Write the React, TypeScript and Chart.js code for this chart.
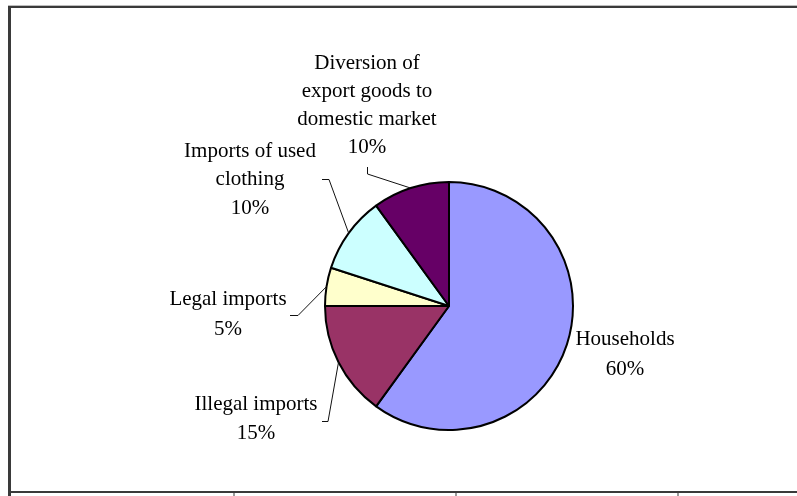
import React, { useEffect, useRef } from "react";
import { Chart, registerables } from "chart.js";

Chart.register(...registerables);

const categories = [
  "Households",
  "Illegal imports",
  "Legal imports",
  "Imports of used clothing",
  "Diversion of export goods to domestic market",
];
const shares = [60, 15, 5, 10, 10];
const colors = ["#9999FF", "#993366", "#FFFFCC", "#CCFFFF", "#660066"];
const labelLines = [
  ["Households", "60%"],
  ["Illegal imports", "15%"],
  ["Legal imports", "5%"],
  ["Imports of used", "clothing", "10%"],
  ["Diversion of", "export goods to", "domestic market", "10%"],
];

// layout: label centre x, first line y, line spacing; leader elbow points (null = no leader)
const labelLayout = [
  { x: 625, y: 339, dy: 30, leader: null as null | number[][] },
  { x: 256, y: 404, dy: 29, leader: [[322, 421.5], [328, 421.5]] },
  { x: 228, y: 299, dy: 30, leader: [[290, 315.5], [298, 315.5]] },
  { x: 250, y: 151, dy: 28.5, leader: [[322, 179.5], [329, 179.5]] },
  { x: 367, y: 63, dy: 28.3, leader: [[367.5, 167], [367.5, 174]] },
];

const overlay = {
  id: "overlay",
  afterDraw(chart: any) {
    const ctx = chart.ctx as CanvasRenderingContext2D;
    ctx.save();
    // frame
    ctx.fillStyle = "#bdbdbd";
    ctx.fillRect(8, 5, 800, 1);
    ctx.fillStyle = "#3a3a3a";
    ctx.fillRect(8, 6, 800, 2);
    ctx.fillRect(8, 6, 3, 490);
    ctx.fillRect(11, 491, 800, 2);
    ctx.fillStyle = "#9a9a9a";
    [233, 455, 677].forEach((x) => ctx.fillRect(x, 493, 2, 3));

    const meta = chart.getDatasetMeta(0);
    ctx.fillStyle = "#000";
    ctx.font = "21px 'Liberation Serif', 'Times New Roman', serif";
    ctx.textAlign = "center";
    ctx.textBaseline = "middle";
    labelLines.forEach((lines, i) => {
      const L = labelLayout[i];
      lines.forEach((t, k) => ctx.fillText(t, L.x, L.y + k * L.dy));
      if (L.leader) {
        const arc = meta.data[i];
        const mid = (arc.startAngle + arc.endAngle) / 2;
        const ex = arc.x + Math.cos(mid) * arc.outerRadius;
        const ey = arc.y + Math.sin(mid) * arc.outerRadius;
        ctx.strokeStyle = "#111";
        ctx.lineWidth = 1;
        ctx.beginPath();
        ctx.moveTo(L.leader[0][0], L.leader[0][1]);
        ctx.lineTo(L.leader[1][0], L.leader[1][1]);
        ctx.lineTo(ex, ey);
        ctx.stroke();
      }
    });
    ctx.restore();
  },
};

export default function App() {
  const ref = useRef<HTMLCanvasElement | null>(null);
  useEffect(() => {
    if (!ref.current) return;
    const chart = new Chart(ref.current, {
      type: "pie",
      data: {
        labels: categories,
        datasets: [
          {
            data: shares,
            backgroundColor: colors,
            borderColor: "#000",
            borderWidth: 2,
          },
        ],
      },
      options: {
        animation: false,
        responsive: false,
        maintainAspectRatio: false,
        layout: { padding: { left: 324, right: 223, top: 181, bottom: 65 } },
        plugins: { legend: { display: false }, tooltip: { enabled: false } },
      },
      plugins: [overlay],
    });
    return () => chart.destroy();
  }, []);
  return (
    <div style={{ position: "fixed", left: 0, top: 0, width: 797, height: 496, background: "#fff" }}>
      <canvas ref={ref} width={797} height={496} style={{ width: 797, height: 496 }} />
    </div>
  );
}
